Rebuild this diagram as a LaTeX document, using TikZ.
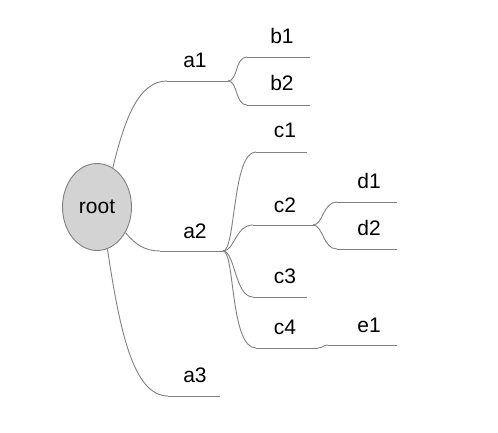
\documentclass[tikz,border=0pt]{standalone}
\usepackage{fontspec}
\setmainfont{Liberation Sans}
\usetikzlibrary{shapes.geometric}
\begin{document}
\begin{tikzpicture}[x=1pt,y=-1pt,
  wire/.style={draw={rgb,255:red,128;green,128;blue,128},line width=0.9pt},
  lbl/.style={anchor=base,inner sep=0pt,font=\fontsize{21}{25}\selectfont},
  rootnode/.style={ellipse,draw={rgb,255:red,128;green,128;blue,128},line width=0.9pt,
    fill={rgb,255:red,211;green,211;blue,211},minimum width=69pt,minimum height=87pt,inner sep=0pt}]
\useasboundingbox (0,0) rectangle (498,433);

% central topic
\node[rootnode] (root) at (97,207) {};
\node[lbl] (roottxt) at (97,213) {root};

% labels
\node[lbl] (a1) at (195,68) {a1};
\node[lbl] (b1) at (282,44) {b1};
\node[lbl] (b2) at (282,91) {b2};
\node[lbl] (a2) at (195,238) {a2};
\node[lbl] (c1) at (285,138) {c1};
\node[lbl] (c2) at (285,212) {c2};
\node[lbl] (c3) at (285,283) {c3};
\node[lbl] (c4) at (285,334) {c4};
\node[lbl] (d1) at (369,188) {d1};
\node[lbl] (d2) at (369,235) {d2};
\node[lbl] (e1) at (369,332) {e1};
\node[lbl] (a3) at (195,382) {a3};

% underline end points
\coordinate (a1l) at (167,81);  \coordinate (a1r) at (228,81);
\coordinate (b1l) at (247,57);  \coordinate (b1r) at (310,57);
\coordinate (b2l) at (247,105); \coordinate (b2r) at (310,105);
\coordinate (a2l) at (160,251); \coordinate (a2r) at (223,251);
\coordinate (c1l) at (256,152); \coordinate (c1r) at (307,152);
\coordinate (c2l) at (253,225); \coordinate (c2r) at (313,225);
\coordinate (c3l) at (253,297); \coordinate (c3r) at (307,297);
\coordinate (c4l) at (256,348); \coordinate (c4r) at (318,348);
\coordinate (d1l) at (337,202); \coordinate (d1r) at (397,202);
\coordinate (d2l) at (337,249); \coordinate (d2r) at (397,249);
\coordinate (e1l) at (328,345); \coordinate (e1r) at (397,345);
\coordinate (a3l) at (168,396); \coordinate (a3r) at (220,396);

% underlines
\foreach \n in {a1,b1,b2,a2,c1,c2,c3,c4,d1,d2,e1,a3}
  \draw[wire] (\n l) -- (\n r);

% branches from the root
\draw[wire] (root.68) .. controls +(12,-50) and +(-28,0) .. (a1l);
\draw[wire] (root.-42) .. controls +(10,12) and +(-15,0) .. (a2l);
\draw[wire] (root.-76) .. controls +(12,80) and +(-35,0) .. (a3l);

% a1 children
\draw[wire] (a1r) .. controls +(10,0) and +(-12,0) .. (b1l);
\draw[wire] (a1r) .. controls +(10,0) and +(-12,0) .. (b2l);

% a2 children
\draw[wire] (a2r) .. controls +(13,0) and +(-24,0) .. (c1l);
\draw[wire] (a2r) .. controls +(12,0) and +(-18,0) .. (c2l);
\draw[wire] (a2r) .. controls +(12,0) and +(-18,0) .. (c3l);
\draw[wire] (a2r) .. controls +(12,0) and +(-26,0) .. (c4l);

% c2 and c4 children
\draw[wire] (c2r) .. controls +(10,0) and +(-14,0) .. (d1l);
\draw[wire] (c2r) .. controls +(10,0) and +(-14,0) .. (d2l);
\draw[wire] (c4r) .. controls +(5,0) and +(-5,0) .. (e1l);
\end{tikzpicture}
\end{document}
